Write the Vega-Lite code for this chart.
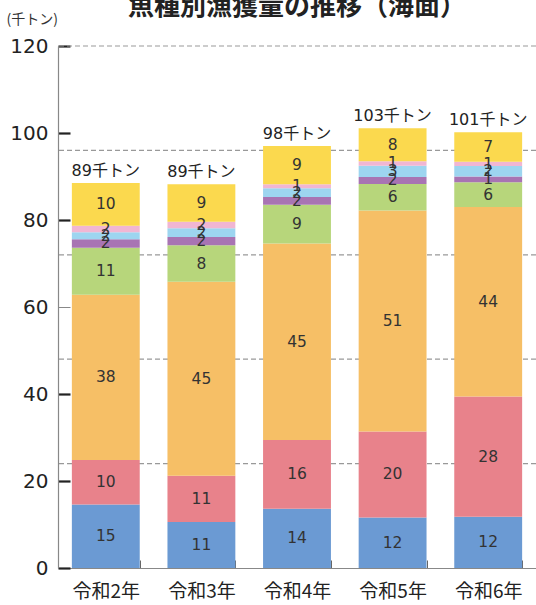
{
  "$schema": "https://vega.github.io/schema/vega-lite/v6.json",
  "width": 478,
  "height": 522,
  "autosize": {"type": "none"},
  "padding": {"left": 58, "top": 46, "right": 0, "bottom": 37},
  "background": "white",
  "title": {"text": "魚種別漁獲量の推移（海面）", "font": "Noto Sans CJK JP", "fontSize": 26, "fontWeight": "bold", "color": "#222", "anchor": "middle", "frame": "group", "offset": 0, "dy": 8},
  "config": {"view": {"stroke": null}, "font": "DejaVu Sans"},
  "datasets": {
    "grid": [{"g": 24}, {"g": 48}, {"g": 72}, {"g": 96}, {"g": 120}],
    "catch": [
      {"year": "令和2年", "order": 1, "kind": "k1", "value": 14.6, "totalLabel": "89千トン"},
      {"year": "令和2年", "order": 2, "kind": "k2", "value": 10.2, "totalLabel": "89千トン"},
      {"year": "令和2年", "order": 3, "kind": "k3", "value": 38.0, "totalLabel": "89千トン"},
      {"year": "令和2年", "order": 4, "kind": "k4", "value": 10.8, "totalLabel": "89千トン"},
      {"year": "令和2年", "order": 5, "kind": "k5", "value": 2.0, "totalLabel": "89千トン"},
      {"year": "令和2年", "order": 6, "kind": "k6", "value": 1.6, "totalLabel": "89千トン"},
      {"year": "令和2年", "order": 7, "kind": "k7", "value": 1.5, "totalLabel": "89千トン"},
      {"year": "令和2年", "order": 8, "kind": "k8", "value": 9.8, "totalLabel": "89千トン"},
      {"year": "令和3年", "order": 1, "kind": "k1", "value": 10.6, "totalLabel": "89千トン"},
      {"year": "令和3年", "order": 2, "kind": "k2", "value": 10.6, "totalLabel": "89千トン"},
      {"year": "令和3年", "order": 3, "kind": "k3", "value": 44.6, "totalLabel": "89千トン"},
      {"year": "令和3年", "order": 4, "kind": "k4", "value": 8.4, "totalLabel": "89千トン"},
      {"year": "令和3年", "order": 5, "kind": "k5", "value": 1.9, "totalLabel": "89千トン"},
      {"year": "令和3年", "order": 6, "kind": "k6", "value": 2.0, "totalLabel": "89千トン"},
      {"year": "令和3年", "order": 7, "kind": "k7", "value": 1.5, "totalLabel": "89千トン"},
      {"year": "令和3年", "order": 8, "kind": "k8", "value": 8.6, "totalLabel": "89千トン"},
      {"year": "令和4年", "order": 1, "kind": "k1", "value": 13.6, "totalLabel": "98千トン"},
      {"year": "令和4年", "order": 2, "kind": "k2", "value": 15.8, "totalLabel": "98千トン"},
      {"year": "令和4年", "order": 3, "kind": "k3", "value": 45.2, "totalLabel": "98千トン"},
      {"year": "令和4年", "order": 4, "kind": "k4", "value": 8.9, "totalLabel": "98千トン"},
      {"year": "令和4年", "order": 5, "kind": "k5", "value": 1.8, "totalLabel": "98千トン"},
      {"year": "令和4年", "order": 6, "kind": "k6", "value": 2.0, "totalLabel": "98千トン"},
      {"year": "令和4年", "order": 7, "kind": "k7", "value": 0.9, "totalLabel": "98千トン"},
      {"year": "令和4年", "order": 8, "kind": "k8", "value": 8.8, "totalLabel": "98千トン"},
      {"year": "令和5年", "order": 1, "kind": "k1", "value": 11.6, "totalLabel": "103千トン"},
      {"year": "令和5年", "order": 2, "kind": "k2", "value": 19.8, "totalLabel": "103千トン"},
      {"year": "令和5年", "order": 3, "kind": "k3", "value": 50.8, "totalLabel": "103千トン"},
      {"year": "令和5年", "order": 4, "kind": "k4", "value": 6.1, "totalLabel": "103千トン"},
      {"year": "令和5年", "order": 5, "kind": "k5", "value": 1.6, "totalLabel": "103千トン"},
      {"year": "令和5年", "order": 6, "kind": "k6", "value": 2.6, "totalLabel": "103千トン"},
      {"year": "令和5年", "order": 7, "kind": "k7", "value": 1.0, "totalLabel": "103千トン"},
      {"year": "令和5年", "order": 8, "kind": "k8", "value": 7.6, "totalLabel": "103千トン"},
      {"year": "令和6年", "order": 1, "kind": "k1", "value": 11.8, "totalLabel": "101千トン"},
      {"year": "令和6年", "order": 2, "kind": "k2", "value": 27.6, "totalLabel": "101千トン"},
      {"year": "令和6年", "order": 3, "kind": "k3", "value": 43.6, "totalLabel": "101千トン"},
      {"year": "令和6年", "order": 4, "kind": "k4", "value": 5.7, "totalLabel": "101千トン"},
      {"year": "令和6年", "order": 5, "kind": "k5", "value": 1.3, "totalLabel": "101千トン"},
      {"year": "令和6年", "order": 6, "kind": "k6", "value": 2.4, "totalLabel": "101千トン"},
      {"year": "令和6年", "order": 7, "kind": "k7", "value": 1.0, "totalLabel": "101千トン"},
      {"year": "令和6年", "order": 8, "kind": "k8", "value": 6.8, "totalLabel": "101千トン"}
    ]
  },
  "layer": [
    {
      "data": {"name": "grid"},
      "mark": {"type": "rule", "color": "#999", "strokeWidth": 1.2, "strokeDash": [5, 3]},
      "encoding": {
        "y": {"field": "g", "type": "quantitative", "scale": {"domain": [0, 120], "nice": false}, "title": "(千トン)"}
      }
    },
    {
      "data": {"name": "catch"},
      "transform": [
        {"stack": "value", "groupby": ["year"], "sort": [{"field": "order", "order": "ascending"}], "as": ["v0", "v1"]}
      ],
      "mark": {"type": "bar"},
      "encoding": {
        "x": {
          "field": "year", "type": "nominal", "sort": null, "title": null,
          "scale": {"paddingInner": 0.29, "paddingOuter": 0.145},
          "axis": {"title": null, "labelAngle": 0, "tickBand": "extent", "tickSize": -8, "tickColor": "#666", "tickWidth": 1, "domainColor": "#888", "domainWidth": 1.2, "labelFont": "Noto Sans CJK JP", "labelFontSize": 19, "labelColor": "#222", "labelPadding": 22, "labelBaseline": "top"}
        },
        "y": {
          "field": "v0", "type": "quantitative", "scale": {"domain": [0, 120], "nice": false}, "title": "(千トン)",
          "axis": {
            "values": [0, 20, 40, 60, 80, 100, 120], "grid": false,
            "domainColor": "#888", "domainWidth": 1.2,
            "tickSize": -12, "tickWidth": {"condition": {"test": "datum.value == 60", "value": 1}, "value": 2.2},
            "tickColor": {"condition": {"test": "datum.value == 60", "value": "#888"}, "value": "#222"},
            "labelFont": "DejaVu Sans", "labelFontSize": 20, "labelColor": "#222", "labelPadding": 22,
            "title": "(千トン)", "titleFont": "Noto Sans CJK JP", "titleFontSize": 14, "titleFontWeight": "normal", "titleColor": "#333",
            "titleAngle": 0, "titleX": -52, "titleY": -27, "titleAlign": "left", "titleBaseline": "middle"
          }
        },
        "y2": {"field": "v1"},
        "color": {
          "field": "kind", "type": "nominal", "legend": null,
          "scale": {"domain": ["k1", "k2", "k3", "k4", "k5", "k6", "k7", "k8"], "range": ["#6b9ad3", "#e8828b", "#f6bf66", "#b7d67b", "#a874b3", "#9dd5f0", "#f1b6d3", "#fbd94e"]}
        }
      }
    },
    {
      "data": {"name": "catch"},
      "transform": [
        {"stack": "value", "groupby": ["year"], "sort": [{"field": "order", "order": "ascending"}], "as": ["v0", "v1"]},
        {"calculate": "(datum.v0 + datum.v1) / 2", "as": "mid"}
      ],
      "mark": {"type": "text", "font": "DejaVu Sans", "fontSize": 15.5, "color": "#333", "baseline": "middle", "align": "center"},
      "encoding": {
        "x": {"field": "year", "type": "nominal", "sort": null, "title": null},
        "y": {"field": "mid", "type": "quantitative", "title": "(千トン)"},
        "text": {"field": "value", "type": "quantitative", "format": ".0f"}
      }
    },
    {
      "data": {"name": "catch"},
      "transform": [
        {"aggregate": [{"op": "sum", "field": "value", "as": "top"}], "groupby": ["year", "totalLabel"]}
      ],
      "mark": {"type": "text", "font": "DejaVu Sans, Noto Sans CJK JP", "fontSize": 16, "color": "#222", "baseline": "alphabetic", "align": "center", "dy": -7},
      "encoding": {
        "x": {"field": "year", "type": "nominal", "sort": null, "title": null},
        "y": {"field": "top", "type": "quantitative", "title": "(千トン)"},
        "text": {"field": "totalLabel", "type": "nominal"}
      }
    }
  ]
}
